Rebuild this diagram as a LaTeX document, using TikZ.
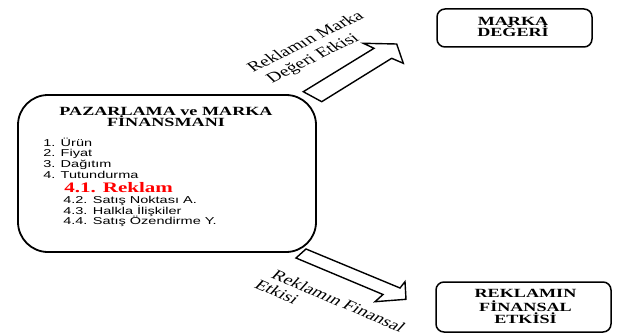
\documentclass[tikz,border=0pt]{standalone}
\usepackage{fontspec}
\setmainfont{Liberation Serif}
\newfontfamily\sanf{Liberation Sans}
\begin{document}
\begin{tikzpicture}[x=1pt,y=1pt,
  frame/.style={draw=black, line width=1.5pt, rounded corners=8pt, inner sep=0pt},
  ttl/.style={font=\fontsize{12.5}{15}\selectfont\bfseries, inner sep=0pt, xscale=1.45, anchor=base},
  itm/.style={font=\sanf\fontsize{10}{12}\selectfont, inner sep=0pt, xscale=1.45, anchor=base west},
  lbl/.style={font=\fontsize{14}{16}\selectfont, inner sep=0pt, xscale=1.45, anchor=base},
  blk/.style={draw=black, line width=1.4pt, fill=white, line join=miter}]
\useasboundingbox (0,0) rectangle (620,-334);
\fill[white] (0,0) rectangle (620,-334);

% main box
\node[draw=black, line width=1.8pt, rounded corners=30pt, minimum width=298pt, minimum height=157pt, inner sep=0pt] (main) at (167,-173.5) {};
\node[ttl] (t1) at (166,-115.5) {PAZARLAMA ve MARKA};
\node[ttl] (t2) at (166,-126.5) {FİNANSMANI};
\node[itm] (i1) at (43,-146) {1. Ürün};
\node[itm] (i2) at (43,-156.7) {2. Fiyat};
\node[itm] (i3) at (43,-167.3) {3. Dağıtım};
\node[itm] (i4) at (43,-178) {4. Tutundurma};
\node[inner sep=0pt, xscale=1.45, anchor=base west, text=red, font=\fontsize{14.5}{16}\selectfont\bfseries] (i41) at (64,-192.3) {4.1. Reklam};
\node[itm] (i42) at (63,-203.3) {4.2. Satış Noktası A.};
\node[itm] (i43) at (63,-214) {4.3. Halkla İlişkiler};
\node[itm] (i44) at (63,-224.5) {4.4. Satış Özendirme Y.};

% right boxes
\node[frame, minimum width=155pt, minimum height=38pt] (marka) at (514.5,-28) {};
\node[ttl] (m1) at (513,-25.5) {MARKA};
\node[ttl] (m2) at (513,-36.7) {DEĞERİ};

\node[frame, minimum width=175pt, minimum height=50pt] (fin) at (523.5,-307) {};
\node[ttl] (f1) at (525.5,-297.7) {REKLAMIN};
\node[ttl] (f2) at (525.5,-311) {FİNANSAL};
\node[ttl] (f3) at (525.5,-323.3) {ETKİSİ};

% block arrows
\draw[blk] (303.3,-91.7) -- (374,-48.3) -- (363.3,-43.3) -- (396.7,-44) -- (403.3,-63.3) -- (391.7,-58.3) -- (321.7,-101.7) -- cycle;
\draw[blk] (306,-249) -- (400,-288) -- (405,-281.7) -- (406,-299.3) -- (375,-301.7) -- (383,-294.5) -- (296,-258) -- cycle;

% arrow labels
\node[lbl, rotate=35.5] (u1) at (309,-45) {Reklamın Marka};
\node[lbl, rotate=35.5] (u2) at (316,-61.5) {Değeri Etkisi};
\node[lbl, rotate=-32] (d1) at (335,-305) {Reklamın Finansal};
\node[lbl, anchor=base west, rotate=-32] (d2) at (253,-287) {Etkisi};
\end{tikzpicture}
\end{document}
